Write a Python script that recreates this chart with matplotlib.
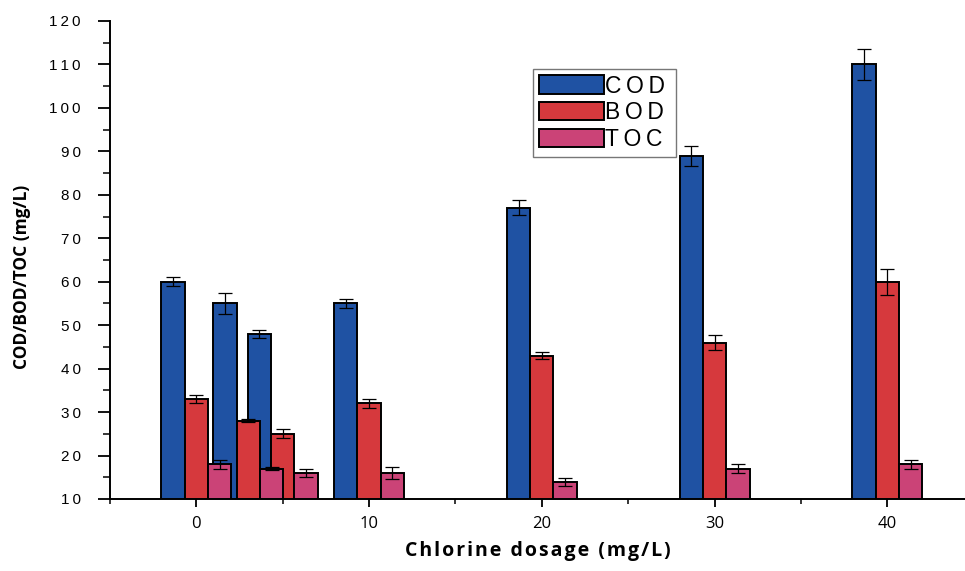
import matplotlib
matplotlib.use("Agg")
import matplotlib.pyplot as plt
from matplotlib.ticker import MultipleLocator
import numpy as np

# ---- data ----
dosage = [0, 3, 5, 10, 20, 30, 40]
cod = [60, 55, 48, 55, 77, 89, 110]
bod = [33, 28, 25, 32, 43, 46, 60]
toc = [18, 17, 16, 16, 14, 17, 18]
cod_err = [1.0, 2.4, 0.9, 1.0, 1.7, 2.3, 3.6]
bod_err = [1.0, 0.3, 1.0, 1.1, 0.8, 1.8, 3.0]
toc_err = [1.0, 0.3, 1.0, 1.4, 0.9, 1.0, 1.0]
series_names = ["COD", "BOD", "TOC"]
xticks = [0, 10, 20, 30, 40]
yticks = list(range(10, 121, 10))

colors = ["#1f52a3", "#d6393d", "#cb4377"]

def spaced(s, sep=" "):
    return sep.join(list(s))

fig = plt.figure(figsize=(9.65, 5.71), dpi=100)
ax = fig.add_axes([110 / 965, 72 / 571, (965 - 110) / 965, 478 / 571])

width = 1.35
x = np.array(dosage, dtype=float)
offsets = [-width, 0, width]
for vals, errs, off, col, name in zip([cod, bod, toc], [cod_err, bod_err, toc_err],
                                      offsets, colors, series_names):
    ax.bar(x + off, vals, width=width, color=col, edgecolor="black", linewidth=1.4,
           label=spaced(name, "\u2009") + "\u2009", zorder=2)
    ax.errorbar(x + off, vals, yerr=errs, fmt="none", ecolor="black", elinewidth=0.9,
                capsize=5, capthick=0.9, zorder=3)

ax.set_xlim(-5, 44.5)
ax.set_ylim(10, 120)
ax.set_xticks(xticks)
ax.xaxis.set_minor_locator(MultipleLocator(5))
ax.set_yticks(yticks)
ax.yaxis.set_minor_locator(MultipleLocator(5))
ax.set_xticklabels([str(t) for t in xticks], fontfamily="Open Sans", fontsize=12)
ax.set_yticklabels([spaced(str(t), "\u2009") for t in yticks],
                   fontfamily=["Liberation Sans", "DejaVu Sans"], fontsize=11)

for s in ["top", "right"]:
    ax.spines[s].set_visible(False)
for s in ["left", "bottom"]:
    ax.spines[s].set_linewidth(1.4)

ax.tick_params(axis="y", which="major", length=9, width=1.3, pad=12)
ax.tick_params(axis="y", which="minor", length=5, width=1.1)
ax.tick_params(axis="x", which="major", length=6, width=1.3, pad=6)
ax.tick_params(axis="x", which="minor", length=3.5, width=1.1)

ax.set_xlabel(spaced("Chlorine dosage (mg/L)", "\u200a"), fontfamily=["Open Sans", "DejaVu Sans"],
              fontweight="bold", fontsize=14, labelpad=7)
ax.set_ylabel("COD/BOD/TOC (mg/L)", fontfamily=["Open Sans", "DejaVu Sans"],
              fontweight="bold", fontsize=12.5)
ax.yaxis.set_label_coords(-0.092, 0.464)

leg = ax.legend(loc="upper left", bbox_to_anchor=(0.495, 0.90), borderaxespad=0,
                fancybox=False, framealpha=1, edgecolor="#777777",
                prop={"family": ["Liberation Sans", "DejaVu Sans"], "size": 16.5},
                handlelength=2.85, handleheight=0.85, handletextpad=0.05,
                labelspacing=0.16, borderpad=0.25)
leg.get_frame().set_linewidth(1.0)

fig.savefig("out.png", dpi=100)
